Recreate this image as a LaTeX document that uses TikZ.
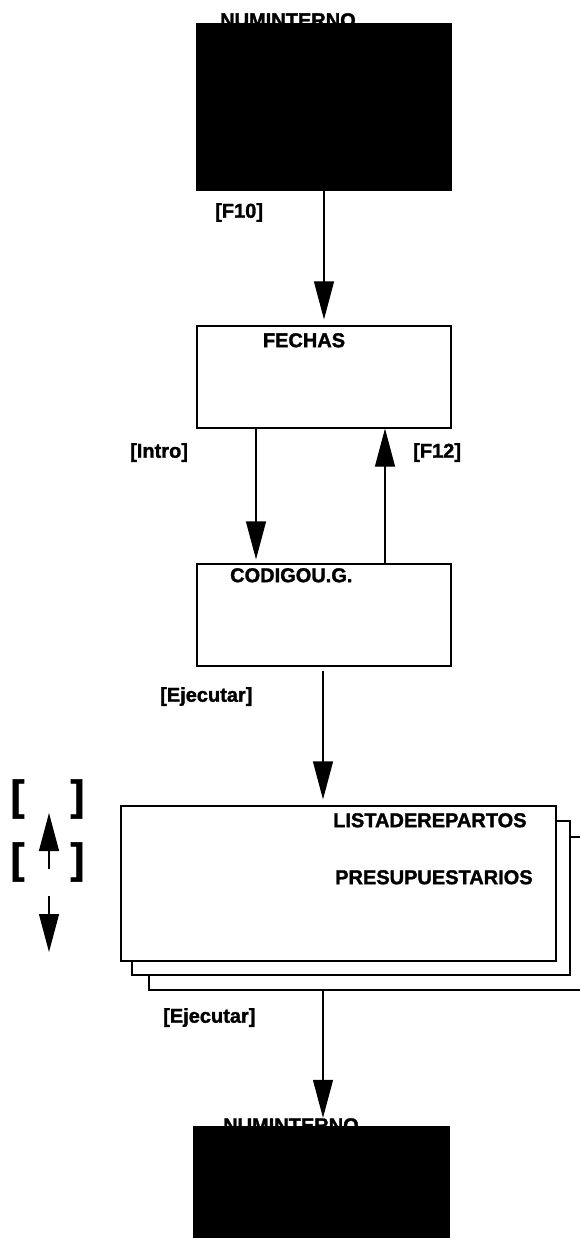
\documentclass[tikz,border=0pt]{standalone}
\usepackage{fontspec}
\setmainfont{Liberation Sans}[BoldFeatures={FakeBold=1.5}]
\usetikzlibrary{arrows.meta}

\tikzset{
  screen/.style={draw, line width=1.2pt, fill=white, inner sep=0pt},
  blackscreen/.style={fill=black, inner sep=0pt},
  title/.style={font=\fontsize{20}{20}\selectfont\bfseries, inner sep=0pt, anchor=north west},
  keylabel/.style={font=\fontsize{20}{20}\selectfont\bfseries, inner sep=0pt, anchor=north west},
  bracket/.style={font=\fontsize{42}{42}\selectfont\bfseries, inner sep=0pt},
  flow/.style={line width=1.2pt, -{Triangle[length=38pt,width=20pt]}},
}

\begin{document}
\begin{tikzpicture}[x=1pt,y=-1pt]
\path[use as bounding box] (0,0) rectangle (580,1238);
% top screen
\node[title] (numtxtA) at (220,13) {NUMINTERNO};
\node[blackscreen, minimum width=256, minimum height=168] (numA) at (324,107) {};
\node[keylabel] (kF10) at (215,203) {[F10]};
% fechas
\node[screen, minimum width=254, minimum height=102] (fechas) at (324,377) {};
\node[title, anchor=north] (fechastxt) at (304,333) {FECHAS};
\node[keylabel] (kIntro) at (130,443) {[Intro]};
\node[keylabel] (kF12) at (413,443) {[F12]};
% codigo
\node[screen, minimum width=254, minimum height=102] (codigo) at (324,615) {};
\node[title] (codigotxt) at (230,568) {CODIGOU.G.};
\node[keylabel] (kEjecA) at (160,687) {[Ejecutar]};
% lista (three sheets)
\begin{scope}
\clip (0,0) rectangle (580,1238);
\node[screen, minimum width=451, minimum height=153] (listaC) at (374.5,913.5) {};
\end{scope}
\node[screen, minimum width=438, minimum height=154] (listaB) at (351,898) {};
\node[screen, minimum width=435, minimum height=155] (listaA) at (338.5,883.5) {};
\node[title] (listatxtA) at (333,813) {LISTADEREPARTOS};
\node[title] (listatxtB) at (335,870) {PRESUPUESTARIOS};
\node[keylabel] (kEjecB) at (163,1008) {[Ejecutar]};
% keys on the left
\node[bracket] (brA1) at (17.5,799) {[};
\node[bracket] (brA2) at (77.5,799) {]};
\node[bracket] (brB1) at (17.5,862) {[};
\node[bracket] (brB2) at (77.5,862) {]};
\coordinate (upbot) at (49,869);
\coordinate (uptop) at (49,813);
\coordinate (downtop) at (49,896);
\coordinate (downbot) at (49,952);
% bottom screen
\node[title] (numtxtB) at (223,1118) {NUMINTERNO};
\node[blackscreen, minimum width=257, minimum height=114] (numB) at (321.5,1183) {};

% connectors
\draw[flow, shorten >=6pt] (numA.south) -- (fechas.north);
\draw[flow, shorten >=4pt] ([xshift=-68pt]fechas.south) -- ([xshift=-68pt]codigo.north);
\draw[flow] ([xshift=61pt]codigo.north) -- ([xshift=61pt]fechas.south);
\draw[flow, shorten <=4pt, shorten >=6pt] ([xshift=-1pt]codigo.south) -- ([xshift=-1pt]codigo.south |- listaA.north);
\draw[flow, shorten >=8pt] ([xshift=1.5pt]numB.north |- listaC.south) -- ([xshift=1.5pt]numB.north);
\draw[flow] (upbot) -- (uptop);
\draw[flow] (downtop) -- (downbot);
\end{tikzpicture}
\end{document}
